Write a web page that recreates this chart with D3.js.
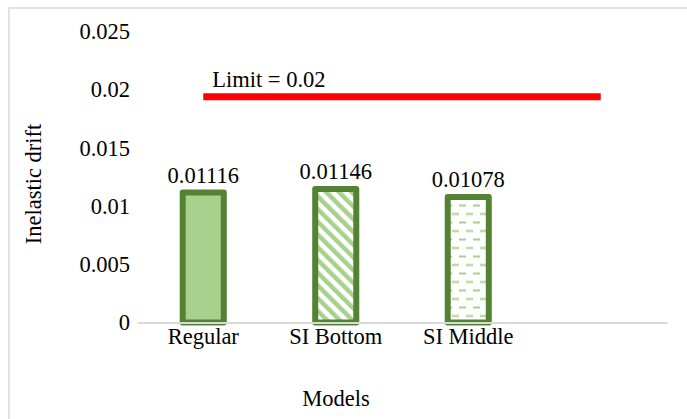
<!DOCTYPE html>
<html>
<head>
<meta charset="utf-8">
<script src="https://cdn.jsdelivr.net/npm/d3@7"></script>
<style>
  body { margin: 0; background: #fff; }
  svg text { font-family: 'Liberation Serif', 'Times New Roman', serif !important; fill: #000; }
</style>
</head>
<body>
<div id="chart"></div>
<script>
// categories (4th slot is empty, the limit line runs to it)
var categories = ["Regular", "SI Bottom", "SI Middle", ""];
var driftValues = [0.01116, 0.01146, 0.01078];
var driftLabels = ["0.01116", "0.01146", "0.01078"];
var limitSeries = [0.0194, 0.0194, 0.0194, 0.0194];
var limitLabel = "Limit = 0.02";
var yTicks = [0, 0.005, 0.01, 0.015, 0.02, 0.025];

var W = 687, H = 419;
var fontSize = "22.5px";
var margin = { top: 31.5, right: 20, bottom: 96.5, left: 137 };
var width = 667 - margin.left,
  height = 322.5 - margin.top;

var svg = d3.select("#chart")
  .append("svg")
  .attr("width", W)
  .attr("height", H);

// light grey chart border
svg.append("rect")
  .attr("x", 9).attr("y", 8)
  .attr("width", W + 10).attr("height", H + 10)
  .attr("fill", "none")
  .attr("stroke", "#d9d9d9")
  .attr("stroke-width", 1.5);

var defs = svg.append("defs");
// diagonal stripes for SI Bottom
var diag = defs.append("pattern")
  .attr("id", "diag")
  .attr("patternUnits", "userSpaceOnUse")
  .attr("width", 9).attr("height", 9)
  .attr("patternTransform", "rotate(-45)");
diag.append("rect").attr("width", 9).attr("height", 9).attr("fill", "#fff");
diag.append("rect").attr("x", 0).attr("y", 0).attr("width", 4.5).attr("height", 9).attr("fill", "#a9d18e");

// dashed horizontal for SI Middle
var dash = defs.append("pattern")
  .attr("id", "dash")
  .attr("patternUnits", "userSpaceOnUse")
  .attr("width", 14).attr("height", 17);
dash.append("rect").attr("width", 14).attr("height", 17).attr("fill", "#fff");
dash.append("rect").attr("x", 0).attr("y", 3).attr("width", 7).attr("height", 2).attr("fill", "#a9d18e");
dash.append("rect").attr("x", 7).attr("y", 11.5).attr("width", 7).attr("height", 2).attr("fill", "#a9d18e");

var fills = ["#a9d18e", "url(#diag)", "url(#dash)"];

var g = svg.append("g")
  .attr("transform", "translate(" + margin.left + "," + margin.top + ")");

var x = d3.scaleBand()
  .domain(categories)
  .range([0, width])
  .paddingInner(0.69)
  .paddingOuter(0.345);

var xc = function(d) { return x(d) + x.bandwidth() / 2; };

var y = d3.scaleLinear()
  .domain([0, 0.025])
  .range([height, 0]);

// y axis labels
var yAxis = g.append("g")
  .call(d3.axisLeft(y).tickValues(yTicks).tickSize(0).tickPadding(7)
    .tickFormat(function(d) { return d === 0 ? "0" : d3.format("")(+d.toFixed(3)); }));
yAxis.select(".domain").remove();
yAxis.selectAll("text")
  .style("font-size", fontSize)
  .attr("fill", "#000");

// bars
g.selectAll(".bar")
  .data(driftValues)
  .enter()
  .append("rect")
  .attr("class", "bar")
  .attr("x", function(d, i) { return x(categories[i]); })
  .attr("y", function(d) { return y(d); })
  .attr("width", x.bandwidth())
  .attr("height", function(d) { return height - y(d); })
  .attr("fill", function(d, i) { return fills[i]; })
  .attr("stroke", "#548235")
  .attr("stroke-width", 6)
  .attr("stroke-linejoin", "round");

// x axis
var xAxis = g.append("g")
  .attr("transform", "translate(0," + height + ")")
  .call(d3.axisBottom(x).tickSize(0).tickPadding(6));
xAxis.select(".domain").attr("stroke", "#d9d9d9").attr("stroke-width", 2);
xAxis.selectAll("text")
  .style("font-size", fontSize)
  .attr("fill", "#000");

// value labels
g.selectAll(".vlabel")
  .data(driftValues)
  .enter()
  .append("text")
  .attr("class", "vlabel")
  .attr("x", function(d, i) { return xc(categories[i]); })
  .attr("y", function(d) { return y(d) - 10; })
  .attr("text-anchor", "middle")
  .style("font-size", fontSize)
  .text(function(d, i) { return driftLabels[i]; });

// limit line
g.append("path")
  .datum(limitSeries)
  .attr("fill", "none")
  .attr("stroke", "#ff0000")
  .attr("stroke-width", 7)
  .attr("d", d3.line()
    .x(function(d, i) { return xc(categories[i]); })
    .y(function(d) { return y(d); }));

g.append("text")
  .attr("x", xc(categories[0]) + 9)
  .attr("y", y(limitSeries[0]) - 10)
  .style("font-size", fontSize)
  .text(limitLabel);

// axis titles
svg.append("text")
  .attr("transform", "translate(41," + (margin.top + height / 2 + 7) + ") rotate(-90)")
  .attr("text-anchor", "middle")
  .style("font-size", fontSize)
  .text("Inelastic drift");

svg.append("text")
  .attr("x", 336)
  .attr("y", 406)
  .attr("text-anchor", "middle")
  .style("font-size", fontSize)
  .text("Models");
</script>
</body>
</html>
